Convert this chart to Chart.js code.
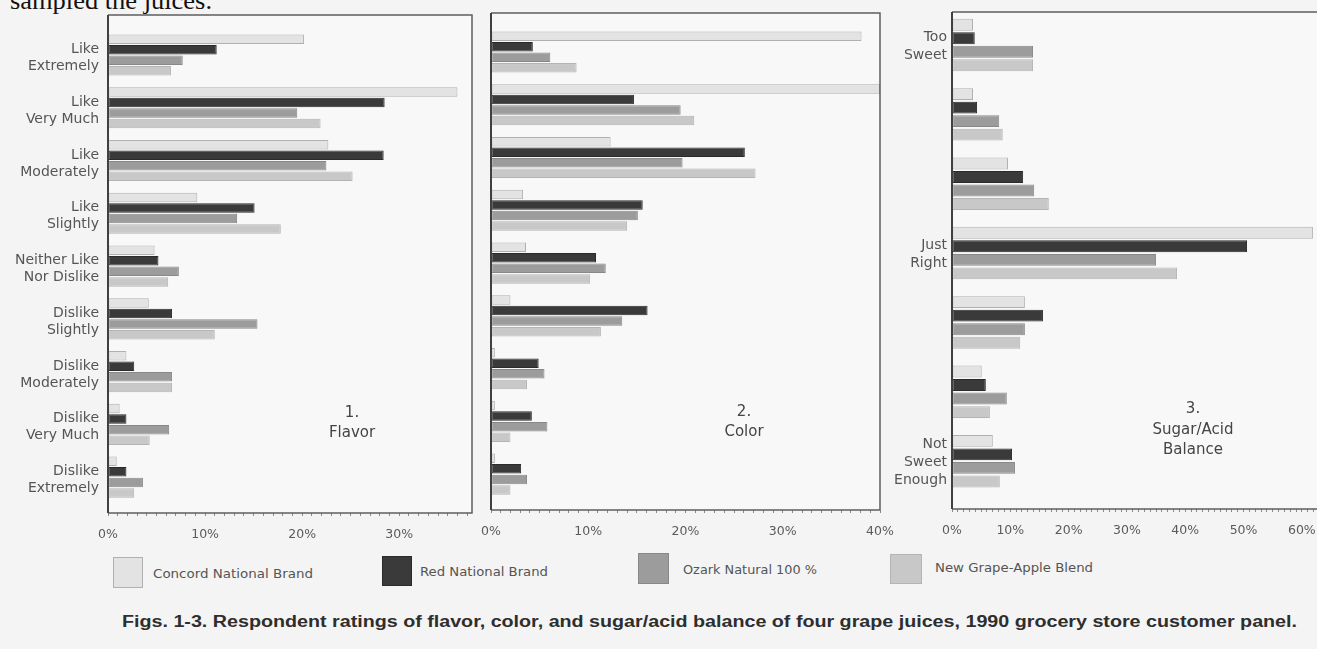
<!DOCTYPE html>
<html><head><meta charset="utf-8">
<script src="https://cdn.jsdelivr.net/npm/chart.js@4.4.0/dist/chart.umd.min.js"></script>
<style>
html,body{margin:0;padding:0;background:#f4f4f4;width:1317px;height:649px;overflow:hidden;position:relative;font-family:"DejaVu Sans",sans-serif;}
.pane{position:absolute;top:0;}
.title{position:absolute;text-align:center;color:#444;font-size:15px;line-height:20px;white-space:nowrap;width:200px;}
.box{position:absolute;box-sizing:border-box;}
.lab{position:absolute;font-size:13px;line-height:16px;color:#555;white-space:nowrap;}
#caption{position:absolute;left:122px;top:612px;font-family:"Liberation Sans",Arial,sans-serif;font-weight:bold;font-size:16px;line-height:20px;color:#2e2e2e;white-space:nowrap;}
#toptext{position:absolute;left:10px;top:-12px;font-family:"Liberation Serif","Times New Roman",serif;font-size:26px;line-height:26px;color:#111;white-space:nowrap;}
</style></head><body>
<div id="toptext">sampled the juices.</div>
<div class="pane" style="left:0;width:490px;height:543px"><canvas id="c1" width="490" height="543"></canvas></div>
<div class="pane" style="left:470px;width:430px;height:540px"><canvas id="c2" width="430" height="540"></canvas></div>
<div class="pane" style="left:882px;width:435px;height:539px"><canvas id="c3" width="435" height="539"></canvas></div>
<div class="title" style="left:252px;top:402px">1.<br>Flavor</div>
<div class="title" style="left:644px;top:401px">2.<br>Color</div>
<div class="title" style="left:1093px;top:398px;line-height:20.5px">3.<br>Sugar/Acid<br>Balance</div>
<div id="legend"></div>
<div id="caption">Figs. 1-3. Respondent ratings of flavor, color, and sugar/acid balance of four grape juices, 1990 grocery store customer panel.</div>
<script>
// ---- data ----
const flavorCategories = [['Like','Extremely'],['Like','Very Much'],['Like','Moderately'],['Like','Slightly'],['Neither Like','Nor Dislike'],['Dislike','Slightly'],['Dislike','Moderately'],['Dislike','Very Much'],['Dislike','Extremely']];
const colorCategories = ['','','','','','','','',''];
const sugarCategories = [['Too','Sweet'],'','',['Just','Right'],'','',['Not','Sweet','Enough']];
const seriesNames = ['Concord National Brand','Red National Brand','Ozark Natural 100 %','New Grape-Apple Blend'];

const flavorConcord = [20.2,36.0,22.7,9.2,4.8,4.2,1.9,1.2,0.9];
const flavorRed     = [11.2,28.5,28.4,15.1,5.2,6.6,2.7,1.9,1.9];
const flavorOzark   = [7.7,19.5,22.5,13.3,7.3,15.4,6.6,6.3,3.6];
const flavorNew     = [6.5,21.9,25.2,17.8,6.2,11.0,6.6,4.3,2.7];

const colorConcord = [38.1,40.0,12.3,3.3,3.6,2.0,0.4,0.4,0.4];
const colorRed     = [4.3,14.7,26.1,15.6,10.8,16.1,4.9,4.2,3.1];
const colorOzark   = [6.1,19.5,19.7,15.1,11.8,13.5,5.5,5.8,3.7];
const colorNew     = [8.8,20.9,27.2,14.0,10.2,11.3,3.7,2.0,2.0];

const sugarConcord = [3.6,3.6,9.6,61.9,12.5,5.1,7.0];
const sugarRed     = [3.9,4.3,12.2,50.6,15.6,5.8,10.3];
const sugarOzark   = [13.9,8.1,14.1,35.0,12.5,9.4,10.8];
const sugarNew     = [13.9,8.7,16.6,38.6,11.7,6.5,8.2];

const flavorTicks = [0,10,20,30];
const colorTicks  = [0,10,20,30,40];
const sugarTicks  = [0,10,20,30,40,50,60];

// ---- styles ----
const fills   = ['#e3e3e3','#3a3a3a','#9c9c9c','#c8c8c8'];
const borders = ['#b0b0b0','#2a2a2a','#888888','#b4b4b4'];
const FONT = 'DejaVu Sans';
Chart.defaults.font.family = FONT;

const framePlugin = {
  id: 'frame',
  beforeDraw(chart) {
    const a = chart.chartArea, ctx = chart.ctx;
    ctx.save(); ctx.fillStyle = '#f8f8f8';
    ctx.fillRect(a.left, a.top, a.right - a.left, a.bottom - a.top);
    ctx.restore();
  },
  afterDraw(chart, args, opts) {
    const a = chart.chartArea, ctx = chart.ctx;
    ctx.save();
    ctx.strokeStyle = '#5e5e5e'; ctx.lineWidth = 1.5;
    ctx.beginPath();
    ctx.moveTo(a.left, a.top); ctx.lineTo(a.right + (opts.right ? 0 : 2), a.top);
    if (opts.right) { ctx.lineTo(a.right, a.bottom); } else { ctx.moveTo(a.right + 2, a.bottom); }
    ctx.lineTo(a.left, a.bottom);
    ctx.stroke();
    ctx.strokeStyle = '#404040'; ctx.lineWidth = 2;
    ctx.beginPath(); ctx.moveTo(a.left, a.top); ctx.lineTo(a.left, a.bottom); ctx.stroke();
    ctx.restore();
  }
};

function makePanel(id, cfg) {
  const datasets = cfg.series.map((vals, s) => ({
    label: seriesNames[s],
    data: vals.map((v, i) => ({ x: v, y: i })),
    backgroundColor: fills[s],
    borderColor: borders[s],
    borderWidth: 1,
    borderSkipped: false,
    categoryPercentage: cfg.catPct,
    barPercentage: cfg.barPct
  }));
  return new Chart(document.getElementById(id), {
    type: 'bar',
    data: { datasets },
    plugins: [framePlugin],
    options: {
      indexAxis: 'y',
      responsive: false,
      animation: false,
      devicePixelRatio: 1,
      layout: { padding: cfg.padding },
      plugins: { legend: { display: false }, tooltip: { enabled: false }, frame: { right: cfg.rightBorder } },
      scales: {
        x: {
          type: 'linear', min: 0, max: cfg.xMax, offset: false,
          afterBuildTicks: (sc) => { const t = []; for (let v = 0; v <= Math.floor(cfg.xMax); v++) t.push({ value: v }); sc.ticks = t; },
          afterFit: (sc) => { sc.height = 30; sc.paddingLeft = 0; sc.paddingRight = 0; },
          ticks: {
            autoSkip: false, maxRotation: 0, padding: 11, color: '#5a5a5a',
            font: { family: FONT, size: 12.5 },
            callback: (v) => cfg.xTicks.includes(v) ? v + '%' : ''
          },
          grid: { display: true, drawOnChartArea: false, drawTicks: true, tickLength: 3, color: '#8a8a8a', lineWidth: 1, offset: false },
          border: { display: false }
        },
        y: {
          type: 'linear', reverse: true, min: cfg.yMin, max: cfg.yMax, offset: false,
          display: cfg.yWidth > 0,
          afterBuildTicks: (sc) => { sc.ticks = cfg.categories.map((_, i) => ({ value: i })); },
          afterFit: (sc) => { sc.width = cfg.yWidth; sc.paddingTop = 0; sc.paddingBottom = 0; },
          ticks: {
            autoSkip: false, padding: cfg.yPad, color: '#555', labelOffset: cfg.labelOffset,
            font: { family: FONT, size: 14, lineHeight: cfg.lineH },
            callback: (v) => cfg.categories[v]
          },
          grid: { display: false, drawTicks: false, offset: false },
          border: { display: false }
        }
      }
    }
  });
}

makePanel('c1', {
  categories: flavorCategories,
  series: [flavorConcord, flavorRed, flavorOzark, flavorNew],
  xMax: 37.5, xTicks: flavorTicks, yMin: -0.758, yMax: 8.68,
  yWidth: 108, yPad: 9, lineH: '17px', labelOffset: 3,
  padding: { top: 15, right: 18, left: 0, bottom: 0 },
  catPct: 0.8, barPct: 0.9, rightBorder: true
});
makePanel('c2', {
  categories: colorCategories,
  series: [colorConcord, colorRed, colorOzark, colorNew],
  xMax: 40, xTicks: colorTicks, yMin: -0.739, yMax: 8.68,
  yWidth: 0, yPad: 0, lineH: '17px', labelOffset: 0,
  padding: { top: 13, right: 20, left: 21, bottom: 0 },
  catPct: 0.8, barPct: 0.9, rightBorder: true
});
makePanel('c3', {
  categories: sugarCategories,
  series: [sugarConcord, sugarRed, sugarOzark, sugarNew],
  xMax: 62.6, xTicks: sugarTicks, yMin: -0.476, yMax: 6.69,
  yWidth: 70, yPad: 5, lineH: '18px', labelOffset: 1,
  padding: { top: 12, right: 0, left: 0, bottom: 0 },
  catPct: 0.78, barPct: 0.88, rightBorder: false
});

// ---- legend (HTML) ----
const legendBoxes = [
  { l: 113, t: 557, w: 30, h: 31 },
  { l: 382, t: 556, w: 30, h: 30 },
  { l: 638, t: 553, w: 31, h: 31 },
  { l: 890, t: 554, w: 32, h: 30 }
];
const legendLabels = [
  { l: 153, t: 566, w: 160 },
  { l: 420, t: 564, w: 128 },
  { l: 683, t: 562, w: 134 },
  { l: 935, t: 560, w: 158 }
];
function fit(el, w) {
  el.style.display = 'inline-block';
  el.style.transformOrigin = '0 50%';
  const cw = el.getBoundingClientRect().width;
  if (cw > 0) el.style.transform = 'scaleX(' + (w / cw) + ')';
}
const leg = document.getElementById('legend');
seriesNames.forEach((name, i) => {
  const b = document.createElement('div');
  b.className = 'box';
  Object.assign(b.style, { left: legendBoxes[i].l + 'px', top: legendBoxes[i].t + 'px', width: legendBoxes[i].w + 'px', height: legendBoxes[i].h + 'px', background: fills[i], border: '1px solid ' + borders[i] });
  leg.appendChild(b);
  const t = document.createElement('div');
  t.className = 'lab';
  t.textContent = name;
  Object.assign(t.style, { left: legendLabels[i].l + 'px', top: legendLabels[i].t + 'px' });
  leg.appendChild(t);
  fit(t, legendLabels[i].w);
});
fit(document.getElementById('caption'), 1175);
fit(document.getElementById('toptext'), 202);
</script>
</body></html>
